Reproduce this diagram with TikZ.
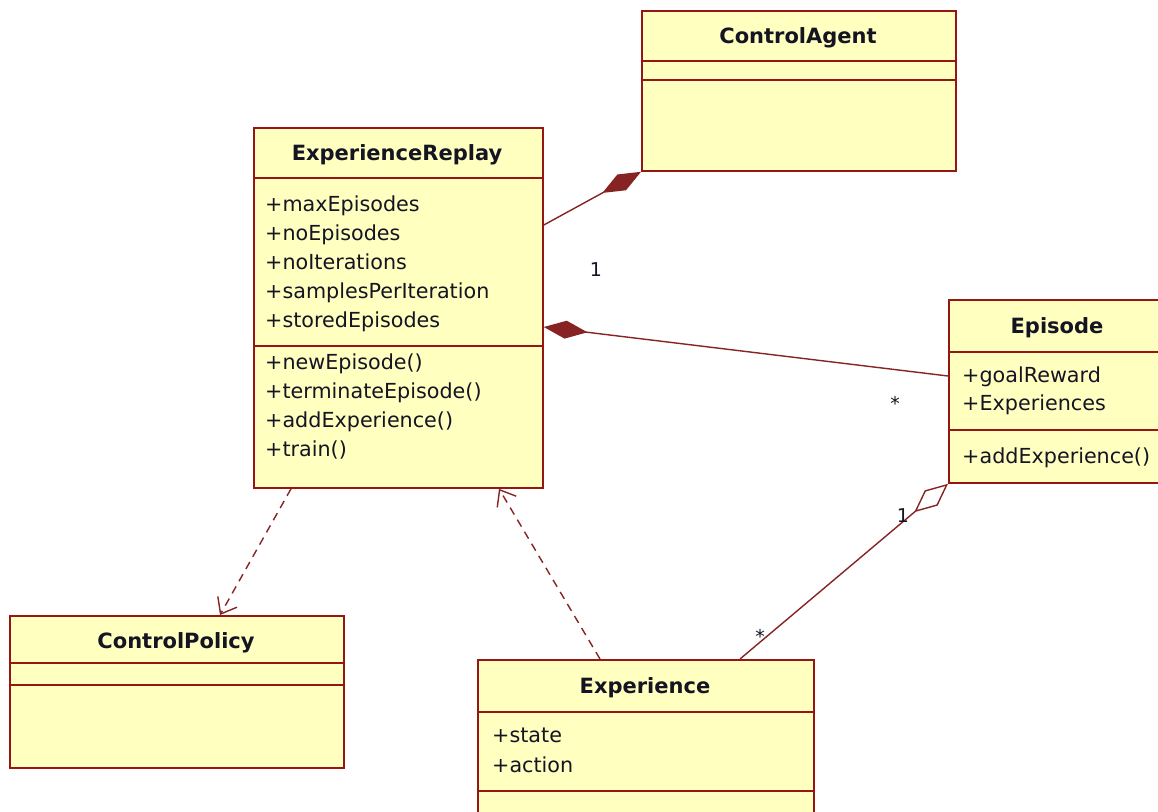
\documentclass[tikz,border=0pt]{standalone}
\usepackage{fontspec}
\setmainfont{DejaVu Sans}
\usetikzlibrary{arrows.meta}
\definecolor{umlborder}{RGB}{150,22,22}
\definecolor{umlfill}{RGB}{255,255,192}
\definecolor{umlline}{RGB}{135,35,35}
\definecolor{umltext}{RGB}{20,20,35}
\begin{document}
\begin{tikzpicture}[x=1pt,y=-1pt,
  classbox/.style={draw=umlborder, fill=umlfill, line width=1.8pt, inner sep=0pt, anchor=north west},
  divider/.style={draw=umlborder, line width=1.8pt},
  classname/.style={font=\fontsize{21}{25}\selectfont\bfseries, text=umltext, inner sep=0pt, anchor=base},
  member/.style={font=\fontsize{20.7}{25}\selectfont, text=umltext, inner sep=0pt, anchor=base west},
  mult/.style={font=\fontsize{19}{22}\selectfont, text=umltext, inner sep=0pt},
  assoc/.style={draw=umlline, line width=1.4pt},
  dep/.style={draw=umlline, line width=1.4pt, dash pattern=on 8pt off 6pt},
  composite/.style={{Diamond[fill=umlline, length=44pt, width=18pt]}-},
  shared/.style={{Diamond[open, fill=white, length=44pt, width=20pt]}-},
  uses/.style={-{Straight Barb[length=14pt, width=22pt, line width=1.4pt]}}
]
\useasboundingbox (0,0) rectangle (1158,811);
\fill[white] (0,0) rectangle (1158,811);

% ---- ControlAgent ----
\node[classbox, minimum width=314pt, minimum height=160pt] (ca) at (641,10) {};
\draw[divider] (ca.west |- 0,61) -- (ca.east |- 0,61);
\draw[divider] (ca.west |- 0,80) -- (ca.east |- 0,80);
\node[classname] (ca-name) at (798,43) {ControlAgent};

% ---- ExperienceReplay ----
\node[classbox, minimum width=289pt, minimum height=360pt] (er) at (253,127) {};
\draw[divider] (er.west |- 0,178) -- (er.east |- 0,178);
\draw[divider] (er.west |- 0,346) -- (er.east |- 0,346);
\node[classname] (er-name) at (397,160) {ExperienceReplay};
\node[member] (er-a1) at (265,211) {+maxEpisodes};
\node[member] (er-a2) at (265,240) {+noEpisodes};
\node[member] (er-a3) at (265,269) {+noIterations};
\node[member] (er-a4) at (265,298) {+samplesPerIteration};
\node[member] (er-a5) at (265,327) {+storedEpisodes};
\node[member] (er-o1) at (265,369) {+newEpisode()};
\node[member] (er-o2) at (265,398) {+terminateEpisode()};
\node[member] (er-o3) at (265,427) {+addExperience()};
\node[member] (er-o4) at (265,456) {+train()};

% ---- Episode ----
\node[classbox, minimum width=218pt, minimum height=183pt] (ep) at (948,299) {};
\draw[divider] (ep.west |- 0,352) -- (ep.east |- 0,352);
\draw[divider] (ep.west |- 0,430) -- (ep.east |- 0,430);
\node[classname] (ep-name) at (1057,333) {Episode};
\node[member] (ep-a1) at (962,382) {+goalReward};
\node[member] (ep-a2) at (962,410) {+Experiences};
\node[member] (ep-o1) at (962,463) {+addExperience()};

% ---- ControlPolicy ----
\node[classbox, minimum width=334pt, minimum height=152pt] (cp) at (9,615) {};
\draw[divider] (cp.west |- 0,663) -- (cp.east |- 0,663);
\draw[divider] (cp.west |- 0,685) -- (cp.east |- 0,685);
\node[classname] (cp-name) at (176,648) {ControlPolicy};

% ---- Experience ----
\node[classbox, minimum width=336pt, minimum height=175pt] (ex) at (477,659) {};
\draw[divider] (ex.west |- 0,712) -- (ex.east |- 0,712);
\draw[divider] (ex.west |- 0,791) -- (ex.east |- 0,791);
\node[classname] (ex-name) at (645,693) {Experience};
\node[member] (ex-a1) at (492,742) {+state};
\node[member] (ex-a2) at (492,772) {+action};

% ---- relations ----
\draw[assoc, composite] (ca.south west) -- (er.east |- 0,225);
\node[mult] (m-er) at (596,270) {1};

\draw[assoc, composite] (er.east |- 0,327) -- (ep.west |- 0,376);
\node[mult] (m-ep) at (895,403) {*};

\draw[assoc, shared] (ep.south west) -- (ex.north -| 740,0);
\node[mult] (m-ep1) at (903,516) {1};
\node[mult] (m-ex) at (760,636) {*};

\draw[dep, uses] (er.south -| 291,0) -- (cp.north -| 220,0);
\draw[dep, uses] (ex.north -| 600,0) -- (er.south -| 499,0);
\end{tikzpicture}
\end{document}
